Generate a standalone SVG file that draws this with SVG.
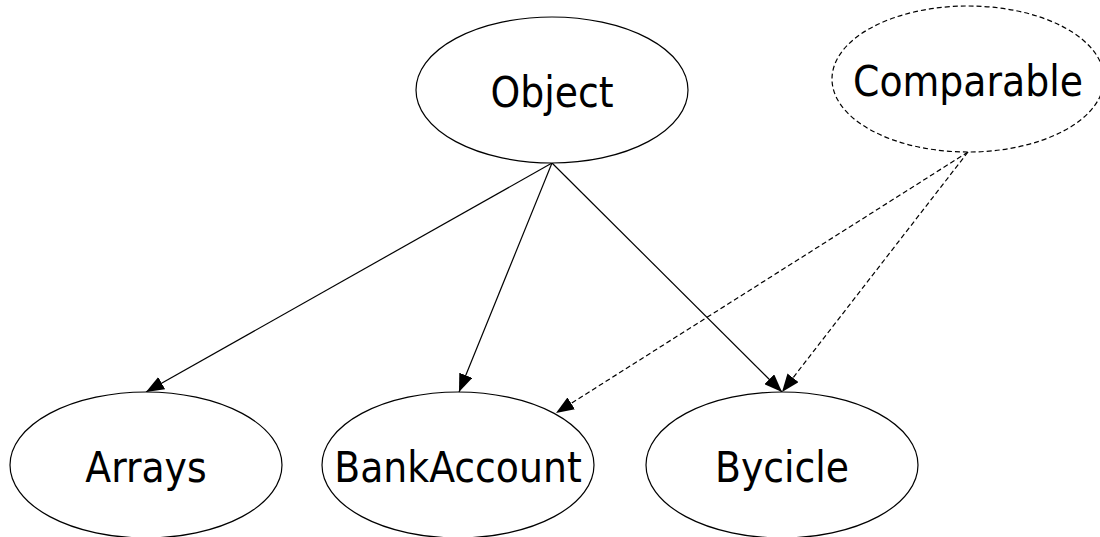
<svg xmlns="http://www.w3.org/2000/svg" width="1100" height="537" viewBox="0 0 1100 537">
<style>
.node ellipse{fill:#fff;stroke:#000;stroke-width:1.2}
.node.iface ellipse{stroke-dasharray:5,3}
.node text{font-family:"DejaVu Sans Condensed","DejaVu Sans",sans-serif;font-stretch:condensed;font-size:42px;fill:#000;text-anchor:middle}
.edge{stroke:#000;stroke-width:1.2;fill:none}
.dash{stroke-dasharray:5,3}
</style>
<defs>
<marker id="ah" viewBox="0 0 18 14" refX="18" refY="7" markerWidth="18" markerHeight="14" markerUnits="userSpaceOnUse" orient="auto">
<path d="M0,0 L18,7 L0,14 Z" fill="#000"/>
</marker>
</defs>
<rect width="1100" height="537" fill="#fff"/>
<g id="connectors">
<line class="edge" x1="552" y1="163" x2="146" y2="392" marker-end="url(#ah)"/>
<line class="edge" x1="552" y1="163" x2="459" y2="392" marker-end="url(#ah)"/>
<line class="edge" x1="552" y1="163" x2="782" y2="392" marker-end="url(#ah)"/>
<line class="edge dash" x1="968" y1="152" x2="556" y2="413" marker-end="url(#ah)"/>
<line class="edge dash" x1="968" y1="152" x2="782" y2="392" marker-end="url(#ah)"/>
</g>
<g id="Object" class="node">
<ellipse cx="552" cy="90" rx="136" ry="73"/>
<text x="552" y="107">Object</text>
</g>
<g id="Comparable" class="node iface">
<ellipse cx="968" cy="79" rx="136" ry="73"/>
<text x="968" y="96">Comparable</text>
</g>
<g id="Arrays" class="node">
<ellipse cx="146" cy="465" rx="136" ry="73"/>
<text x="146" y="482">Arrays</text>
</g>
<g id="BankAccount" class="node">
<ellipse cx="458" cy="465" rx="136" ry="73"/>
<text x="458" y="482">BankAccount</text>
</g>
<g id="Bycicle" class="node">
<ellipse cx="782" cy="465" rx="136" ry="73"/>
<text x="782" y="482">Bycicle</text>
</g>
</svg>
